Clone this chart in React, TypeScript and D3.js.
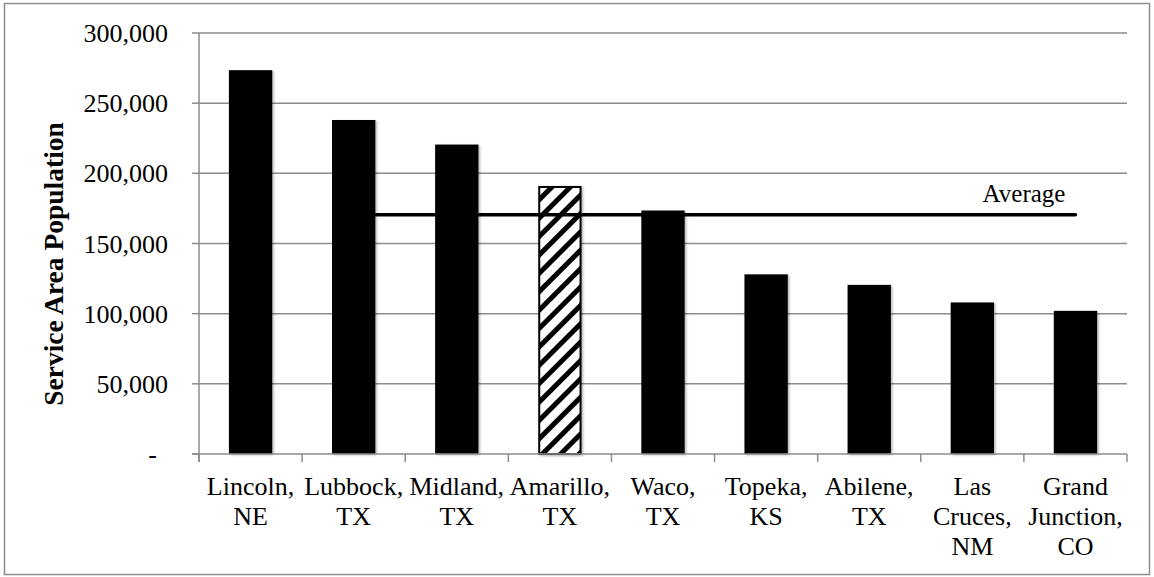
import React from "react";
import * as d3 from "d3";

// Peer cities, service area population (persons)
const cityLabels: string[][] = [
  ["Lincoln,", "NE"],
  ["Lubbock,", "TX"],
  ["Midland,", "TX"],
  ["Amarillo,", "TX"],
  ["Waco,", "TX"],
  ["Topeka,", "KS"],
  ["Abilene,", "TX"],
  ["Las", "Cruces,", "NM"],
  ["Grand", "Junction,", "CO"],
];
const cities = cityLabels.map((l) => l.join(" "));
const populations = [273500, 238000, 220500, 191000, 173500, 128000, 120500, 108000, 102000];
const highlightCity = "Amarillo, TX";
const averageStartCity = "Lubbock, TX";
const averageEndCity = "Grand Junction, CO";
const yTicks = [0, 50000, 100000, 150000, 200000, 250000, 300000];

const W = 1154;
const H = 577;
const plot = { left: 199, right: 1127, top: 33, bottom: 454 };
const FONT = "'Liberation Serif', 'Times New Roman', serif";
const GRID = "#8c8c8c";

export default function App() {
  const x = d3.scaleBand<string>().domain(cities).range([plot.left, plot.right]).padding(0);
  const y = d3.scaleLinear().domain([0, 300000]).range([plot.bottom, plot.top]);
  const barW = x.bandwidth() * 0.42;
  const center = (c: string) => (x(c) as number) + x.bandwidth() / 2;

  // Average of the peers, excluding the highlighted city
  const peers = populations.filter((_, i) => cities[i] !== highlightCity);
  const average = d3.mean(peers) as number;
  const fmt = d3.format(",");

  const avgX1 = center(averageStartCity);
  const avgX2 = center(averageEndCity);
  const txt = { fontFamily: FONT };

  return (
    <svg
      width={W}
      height={H}
      style={{ position: "absolute", left: 0, top: 0, background: "#fff", fontFamily: FONT }}
    >
      <defs>
        <pattern id="hatch" patternUnits="userSpaceOnUse" width={13} height={13} patternTransform="rotate(45)">
          <rect width={13} height={13} fill="#fff" />
          <rect x={0} y={0} width={5} height={13} fill="#000" />
        </pattern>
        <filter id="shadow" x="-20%" y="-5%" width="140%" height="110%">
          <feDropShadow dx={1.5} dy={1} stdDeviation={1.2} floodColor="#000" floodOpacity={0.3} />
        </filter>
      </defs>

      {/* chart frame */}
      <rect x={4.5} y={3.5} width={1145} height={571} fill="none" stroke={GRID} strokeWidth={1.5} />

      {/* horizontal gridlines and y ticks */}
      {yTicks.map((t) => (
        <g key={t}>
          {t > 0 && (
            <line x1={plot.left} x2={plot.right} y1={y(t)} y2={y(t)} stroke={GRID} strokeWidth={1.5} />
          )}
          <line x1={plot.left - 7} x2={plot.left} y1={y(t)} y2={y(t)} stroke={GRID} strokeWidth={1.5} />
          <text
            x={t === 0 ? 157 : 168}
            y={y(t)}
            dy="0.35em"
            textAnchor="end"
            fontSize={26}
            fill="#000"
            style={txt}
          >
            {t === 0 ? "-" : fmt(t)}
          </text>
        </g>
      ))}

      {/* bars */}
      {cities.map((c, i) => {
        const hi = c === highlightCity;
        const top = y(populations[i]);
        return (
          <rect
            key={c}
            x={center(c) - barW / 2 + (hi ? 1 : 0)}
            y={top + (hi ? 1 : 0)}
            width={barW - (hi ? 2 : 0)}
            height={plot.bottom - top - (hi ? 1 : 0)}
            fill={hi ? "url(#hatch)" : "#000"}
            stroke={hi ? "#000" : "none"}
            strokeWidth={hi ? 2 : 0}
            filter="url(#shadow)"
          />
        );
      })}

      {/* average line */}
      <line
        x1={avgX1}
        x2={avgX2}
        y1={y(average)}
        y2={y(average)}
        stroke="#000"
        strokeWidth={3.5}
        strokeLinecap="round"
      />
      <text x={1024} y={y(average) - 13} textAnchor="middle" fontSize={25} fill="#000" style={txt}>
        Average
      </text>

      {/* axes */}
      <line x1={plot.left} x2={plot.left} y1={plot.top} y2={plot.bottom + 8} stroke={GRID} strokeWidth={1.5} />
      <line x1={plot.left - 7} x2={plot.right} y1={plot.bottom} y2={plot.bottom} stroke={GRID} strokeWidth={1.5} />
      {d3.range(cities.length + 1).map((i) => {
        const xx = plot.left + i * x.bandwidth();
        return <line key={i} x1={xx} x2={xx} y1={plot.bottom} y2={plot.bottom + 8} stroke={GRID} strokeWidth={1.5} />;
      })}

      {/* category labels */}
      {cities.map((c, i) => (
        <text key={c} x={center(c)} y={495} textAnchor="middle" fontSize={26} fill="#000" style={txt}>
          {cityLabels[i].map((line, j) => (
            <tspan key={j} x={center(c)} dy={j === 0 ? 0 : 30}>
              {line}
            </tspan>
          ))}
        </text>
      ))}

      {/* y axis title */}
      <text
        transform="translate(63, 264) rotate(-90)"
        textAnchor="middle"
        fontSize={27.5}
        fontWeight="bold"
        fill="#000"
        style={txt}
      >
        Service Area Population
      </text>
    </svg>
  );
}
